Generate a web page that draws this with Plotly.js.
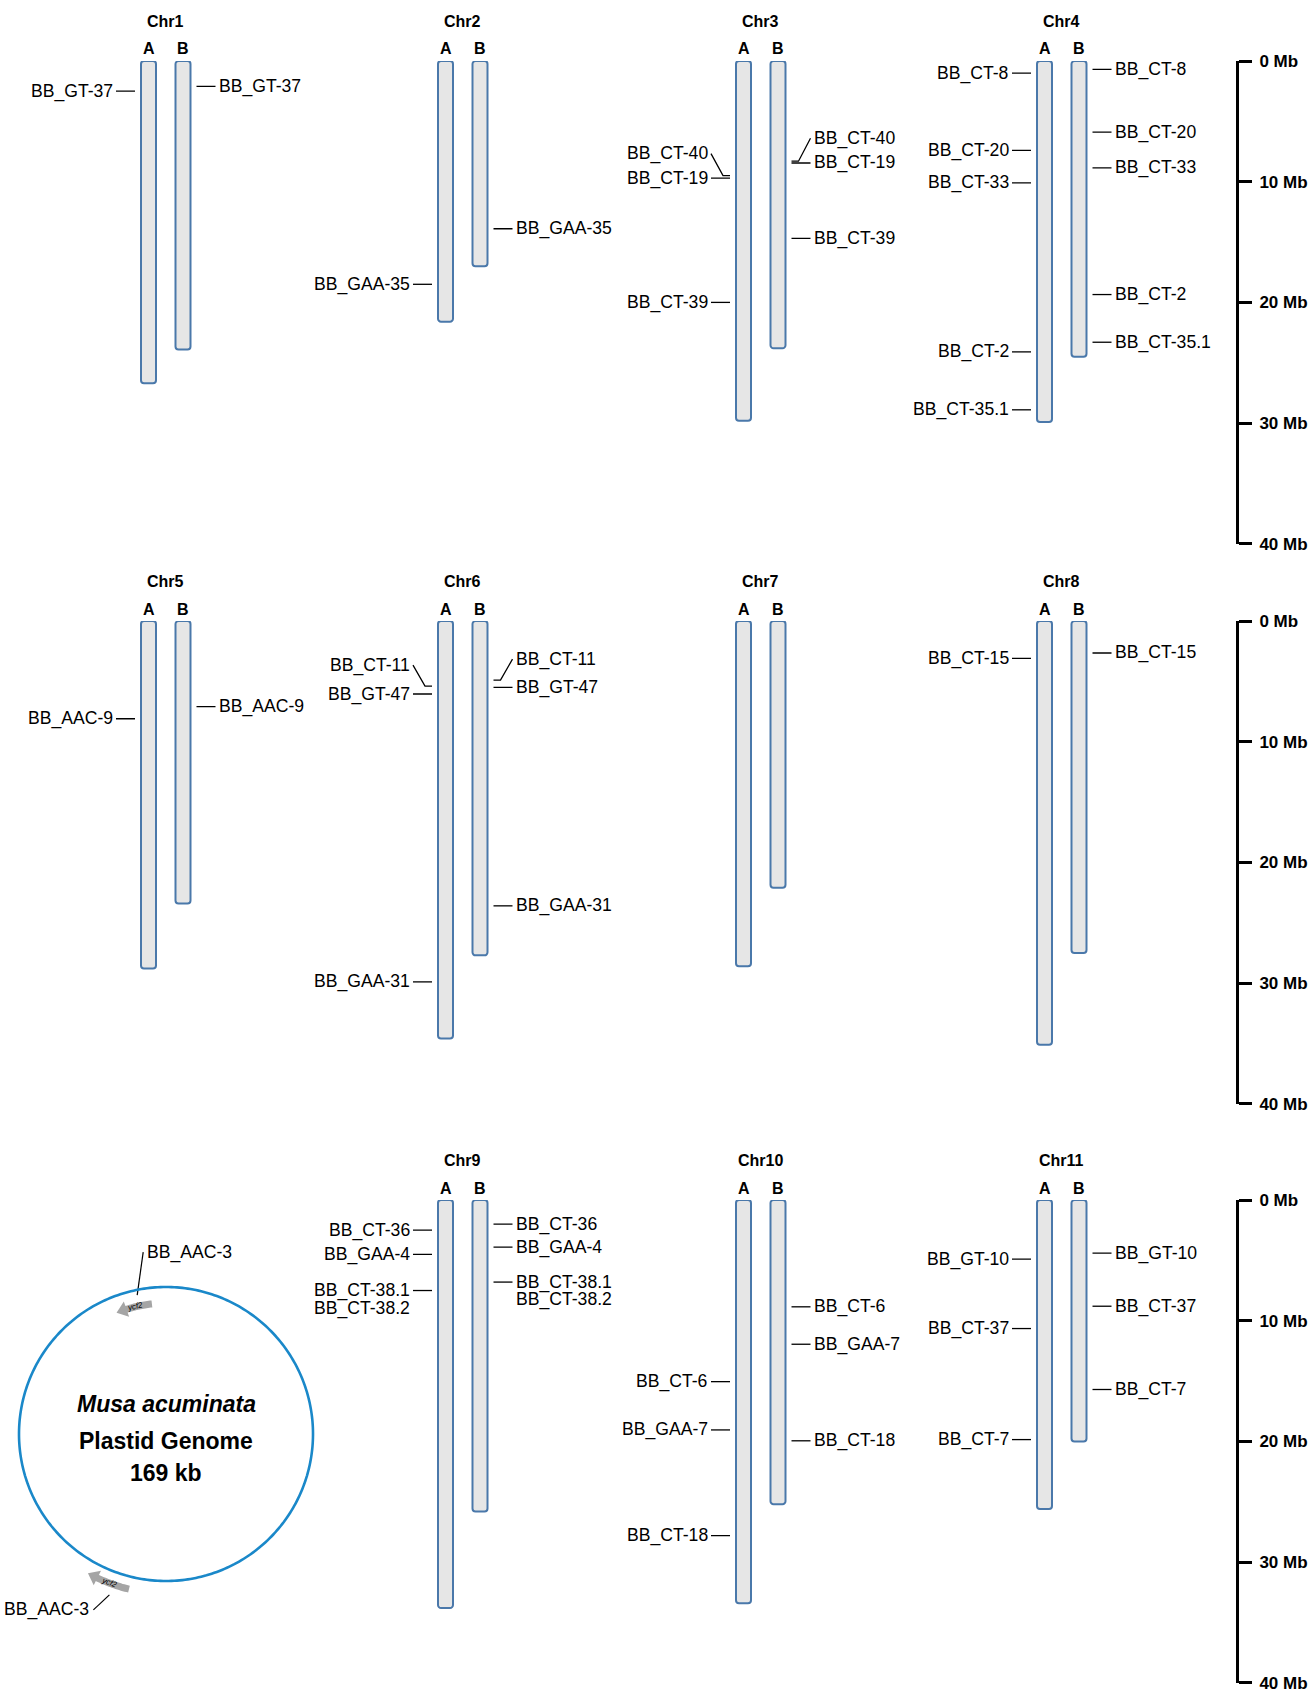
<!DOCTYPE html>
<html>
<head>
<meta charset="utf-8">
<script src="https://cdn.plot.ly/plotly-3.0.1.min.js"></script>
<style>
html,body{margin:0;padding:0;background:#fff;}
#chart{width:1310px;height:1692px;}
</style>
</head>
<body>
<div id="chart"></div>
<script>
// ================= DATA =================
const chromosomes = ['Chr1','Chr2','Chr3','Chr4','Chr5','Chr6','Chr7','Chr8','Chr9','Chr10','Chr11'];
const genomeLabels = ['A','B'];
// chromosome lengths (Mb)
const lengthA = [26.7, 21.6, 29.8, 29.9, 28.8, 34.6, 28.6, 35.1, 33.8, 33.4, 25.6];
const lengthB = [23.9, 17.0, 23.8, 24.5, 23.4, 27.7, 22.1, 27.5, 25.8, 25.2, 20.0];

// markers on the A genome
const markerNameA = ['BB_GT-37','BB_GAA-35','BB_CT-40','BB_CT-19','BB_CT-39',
  'BB_CT-8','BB_CT-20','BB_CT-33','BB_CT-2','BB_CT-35.1',
  'BB_AAC-9','BB_CT-11','BB_GT-47','BB_GAA-31','BB_CT-15',
  'BB_CT-36','BB_GAA-4','BB_CT-38.1','BB_CT-38.2',
  'BB_CT-6','BB_GAA-7','BB_CT-18','BB_GT-10','BB_CT-37','BB_CT-7'];
const markerChrA = ['Chr1','Chr2','Chr3','Chr3','Chr3',
  'Chr4','Chr4','Chr4','Chr4','Chr4',
  'Chr5','Chr6','Chr6','Chr6','Chr8',
  'Chr9','Chr9','Chr9','Chr9',
  'Chr10','Chr10','Chr10','Chr11','Chr11','Chr11'];
const markerPosA = [2.5, 18.5, 9.5, 9.7, 20.0,
  1.0, 7.4, 10.1, 24.1, 28.9,
  8.1, 5.4, 6.05, 29.9, 3.1,
  2.5, 4.5, 7.5, 7.5,
  15.05, 19.05, 27.8, 4.9, 10.65, 19.85];

// markers on the B genome
const markerNameB = ['BB_GT-37','BB_GAA-35','BB_CT-40','BB_CT-19','BB_CT-39',
  'BB_CT-8','BB_CT-20','BB_CT-33','BB_CT-2','BB_CT-35.1',
  'BB_AAC-9','BB_CT-11','BB_GT-47','BB_GAA-31','BB_CT-15',
  'BB_CT-36','BB_GAA-4','BB_CT-38.1','BB_CT-38.2',
  'BB_CT-6','BB_GAA-7','BB_CT-18','BB_GT-10','BB_CT-37','BB_CT-7'];
const markerChrB = markerChrA.slice();
const markerPosB = [2.1, 13.9, 8.3, 8.45, 14.7,
  0.7, 5.9, 8.85, 19.35, 23.3,
  7.1, 4.9, 5.5, 23.6, 2.65,
  2.0, 3.9, 6.8, 6.8,
  8.85, 11.95, 19.95, 4.4, 8.8, 15.7];

// scale bar
const scaleTicks = [0, 10, 20, 30, 40];
const scaleTickText = ['0 Mb','10 Mb','20 Mb','30 Mb','40 Mb'];

// plastid genome
const plastidSpecies = 'Musa acuminata';
const plastidTitle = 'Plastid Genome';
const plastidSizeKb = 169;
const plastidMarkerName = ['BB_AAC-3','BB_AAC-3'];
const plastidMarkerKb = [163.5, 93.6];
const plastidGeneName = ['ycf2','ycf2'];
const plastidGeneStartKb = [159.0, 90.8];
const plastidGeneEndKb = [166.1, 97.9];
const plastidGeneStrand = [-1, 1];

// ================= LAYOUT CONSTANTS =================
const W = 1310, H = 1692;
const PPM = 12.07;                 // pixels per Mb
const rowTop = [61, 621, 1200];    // pixel of 0 Mb for each row
const colA = [148.5, 445.5, 743.5, 1044.5];
const pairGap = 34.5;
const chrRow = [0,0,0,0,1,1,1,1,2,2,2];
const chrCol = [0,1,2,3,0,1,2,3,1,2,3];
const barW = 15, halfOuter = 8.5, lineGap = 5, lineLen = 19, stub = 7, textGap = 1.5;
const titleShift = 39.5, abShift = 12;
const labelNudge = {'A|Chr3|BB_CT-40':-22, 'B|Chr3|BB_CT-40':-23, 'A|Chr6|BB_CT-11':-21, 'B|Chr6|BB_CT-11':-21};
const stackedLabel = {'A|Chr9|BB_CT-38.2':17.5, 'B|Chr9|BB_CT-38.2':17.5};
const scaleX = 1237;
const FONT = 'Arial, "Liberation Sans", Helvetica, sans-serif';
const LABEL_SIZE = 17.6;
const BAR_FILL = '#e6e6e6', BAR_LINE = '#4a78aa';
const CIRCLE_COLOR = '#1a88c9', GENE_COLOR = '#a5a5a5';

const plastidCenter = [166, 1434];
const plastidR = 147;
const polarMax = 1.125;
const geneTrackR = {'-1': 0.89, '1': 1.085};
const leaderStartR = [0.965, 1.16];
const labelOffsetPx = [[6, -43], [-16, 15]];
const plastidLabelSide = ['left', 'right'];

const yRefs = ['y','y2','y3'];
const traces = [];
const annotations = [];

// ---------- chromosome bars, titles ----------
for (let r = 0; r < 3; r++) {
  const xs = [], ys = [];
  chromosomes.forEach((c, i) => {
    if (chrRow[i] !== r) return;
    const xa = colA[chrCol[i]];
    xs.push(xa, xa + pairGap);
    ys.push(lengthA[i], lengthB[i]);
    annotations.push({xref:'x', yref:yRefs[r], x: xa + pairGap/2, y: 0, yshift: titleShift,
      text:'<b>' + c + '</b>', showarrow:false, xanchor:'center', yanchor:'middle',
      font:{family:FONT, size:16, color:'#000'}});
    genomeLabels.forEach((g, k) => {
      annotations.push({xref:'x', yref:yRefs[r], x: xa + k*pairGap, y: 0, yshift: abShift,
        text:'<b>' + g + '</b>', showarrow:false, xanchor:'center', yanchor:'middle',
        font:{family:FONT, size:16, color:'#000'}});
    });
  });
  traces.push({type:'bar', x:xs, y:ys, base:0, width:barW, xaxis:'x', yaxis:yRefs[r],
    marker:{color:BAR_FILL, line:{color:BAR_LINE, width:2}, cornerradius:3},
    cliponaxis:false, hoverinfo:'skip', showlegend:false});
}

// ---------- markers ----------
function addMarkers(side, names, chrs, pos) {
  const dir = side === 'A' ? -1 : 1;
  const lx = [[],[],[]], ly = [[],[],[]];
  names.forEach((nm, j) => {
    const i = chromosomes.indexOf(chrs[j]);
    const r = chrRow[i];
    const cx0 = colA[chrCol[i]] + (side === 'B' ? pairGap : 0);
    const x0 = cx0 + dir*(halfOuter + lineGap);
    const x1 = x0 + dir*lineLen;
    const key = side + '|' + chrs[j] + '|' + nm;
    const nudge = labelNudge[key] || 0;
    const stacked = stackedLabel[key] !== undefined;
    const shift = stacked ? stackedLabel[key] : nudge;
    if (!stacked) {
      if (nudge) {
        lx[r].push(x0, x0 + dir*stub, x1, null);
        ly[r].push(pos[j], pos[j], pos[j] + nudge/PPM, null);
      } else {
        lx[r].push(x0, x1, null);
        ly[r].push(pos[j], pos[j], null);
      }
    }
    annotations.push({xref:'x', yref:yRefs[r], x: x1 + dir*textGap, y: pos[j], yshift: -shift,
      text: nm, showarrow:false, xanchor: side === 'A' ? 'right' : 'left', yanchor:'middle',
      font:{family:FONT, size:LABEL_SIZE, color:'#000'}});
  });
  for (let r = 0; r < 3; r++) {
    traces.push({type:'scatter', mode:'lines', x:lx[r], y:ly[r], xaxis:'x', yaxis:yRefs[r],
      line:{color:'#000', width:1.3}, cliponaxis:false, hoverinfo:'skip', showlegend:false});
  }
}
addMarkers('A', markerNameA, markerChrA, markerPosA);
addMarkers('B', markerNameB, markerChrB, markerPosB);

// ---------- plastid genome (polar) ----------
const kb2deg = kb => kb / plastidSizeKb * 360;
const rad = d => d * Math.PI / 180;
function polarPx(rf, deg) {
  return [plastidCenter[0] + rf*plastidR*Math.sin(rad(deg)), plastidCenter[1] - rf*plastidR*Math.cos(rad(deg))];
}
const px2y3 = Y => (Y - rowTop[2]) / PPM;

// backbone circle
const circTheta = [];
for (let kb = 0; kb <= plastidSizeKb; kb += 0.5) circTheta.push(kb2deg(kb));
circTheta.push(360);
traces.push({type:'scatterpolar', subplot:'polar', mode:'lines', theta:circTheta, r:circTheta.map(() => 1),
  line:{color:CIRCLE_COLOR, width:2.6}, cliponaxis:false, hoverinfo:'skip', showlegend:false});

// gene arrows
plastidGeneName.forEach((g, k) => {
  const s = plastidGeneStrand[k];
  const rr = geneTrackR[String(s)];
  const t0 = kb2deg(plastidGeneStartKb[k]), t1 = kb2deg(plastidGeneEndKb[k]);
  const headDeg = (5 / (rr*plastidR)) * 180 / Math.PI;
  const tail = s < 0 ? t1 : t0;
  const head = s < 0 ? t0 + headDeg : t1 - headDeg;
  const th = [];
  const n = 20;
  for (let q = 0; q <= n; q++) th.push(tail + (head - tail)*q/n);
  traces.push({type:'scatterpolar', subplot:'polar', mode:'lines', theta:th, r:th.map(() => rr),
    line:{color:GENE_COLOR, width:7}, cliponaxis:false, hoverinfo:'skip', showlegend:false});
  traces.push({type:'scatterpolar', subplot:'polar', mode:'markers', theta:[head], r:[rr],
    marker:{symbol:'triangle-up', size:14, color:GENE_COLOR, angle: s < 0 ? head - 90 : head + 90},
    cliponaxis:false, hoverinfo:'skip', showlegend:false});
  const mid = (t0 + t1) / 2;
  const mp = polarPx(rr, mid);
  annotations.push({xref:'x', yref:'y3', x: mp[0], y: px2y3(mp[1]), text:'<i>' + g + '</i>',
    showarrow:false, textangle: s < 0 ? mid - 360 : mid - 180,
    font:{family:FONT, size:8, color:'#000'}, xanchor:'center', yanchor:'middle'});
});

// marker leaders + labels
const leadX = [], leadY = [];
plastidMarkerName.forEach((nm, k) => {
  const p0 = polarPx(leaderStartR[k], kb2deg(plastidMarkerKb[k]));
  const p1 = [p0[0] + labelOffsetPx[k][0], p0[1] + labelOffsetPx[k][1]];
  leadX.push(p0[0], p1[0], null);
  leadY.push(px2y3(p0[1]), px2y3(p1[1]), null);
  const left = plastidLabelSide[k] === 'left';
  annotations.push({xref:'x', yref:'y3', x: p1[0] + (left ? 2 : -2), y: px2y3(p1[1]), text: nm,
    showarrow:false, xanchor: left ? 'left' : 'right', yanchor:'middle',
    font:{family:FONT, size:LABEL_SIZE, color:'#000'}});
});
traces.push({type:'scatter', mode:'lines', x:leadX, y:leadY, xaxis:'x', yaxis:'y3',
  line:{color:'#000', width:1.2}, cliponaxis:false, hoverinfo:'skip', showlegend:false});

// centre text
[['<b><i>' + plastidSpecies + '</i></b>', -30], ['<b>' + plastidTitle + '</b>', 7], ['<b>' + plastidSizeKb + ' kb</b>', 39]]
  .forEach(([t, dy]) => {
    annotations.push({xref:'x', yref:'y3', x: plastidCenter[0], y: px2y3(plastidCenter[1] + dy), text:t,
      showarrow:false, xanchor:'center', yanchor:'middle', font:{family:FONT, size:23, color:'#000'}});
  });

// ---------- axes ----------
function scaleAxis(r) {
  const top = rowTop[r], bot = rowTop[r] + 40*PPM;
  return {
    domain:[1 - bot/H, 1 - top/H], range:[40, 0], fixedrange:true,
    showline:true, linewidth:3, linecolor:'#000', ticks:'outside', ticklen:13, tickwidth:3, tickcolor:'#000',
    tickvals:scaleTicks, ticktext:scaleTickText.map(t => '<b>' + t + '</b>'),
    tickfont:{family:FONT, size:17, color:'#000'}, showgrid:false, zeroline:false,
    ticklabeloverflow:'allow', ticklabelstandoff:4,
    side:'right', anchor:'free', position: scaleX / W
  };
}

const rp = plastidR * polarMax;
const layout = {
  width: W, height: H, margin:{l:0, r:0, t:0, b:0, pad:0},
  paper_bgcolor:'#ffffff', plot_bgcolor:'rgba(0,0,0,0)',
  showlegend:false, barmode:'overlay',
  xaxis:{domain:[0,1], range:[0,W], visible:false, fixedrange:true},
  yaxis: scaleAxis(0), yaxis2: scaleAxis(1), yaxis3: scaleAxis(2),
  polar:{
    domain:{x:[(plastidCenter[0]-rp)/W, (plastidCenter[0]+rp)/W], y:[1-(plastidCenter[1]+rp)/H, 1-(plastidCenter[1]-rp)/H]},
    bgcolor:'rgba(0,0,0,0)',
    radialaxis:{visible:false, range:[0, polarMax]},
    angularaxis:{visible:false, rotation:90, direction:'clockwise'}
  },
  annotations: annotations
};

Plotly.newPlot('chart', traces, layout, {displayModeBar:false, staticPlot:true});
</script>
</body>
</html>
